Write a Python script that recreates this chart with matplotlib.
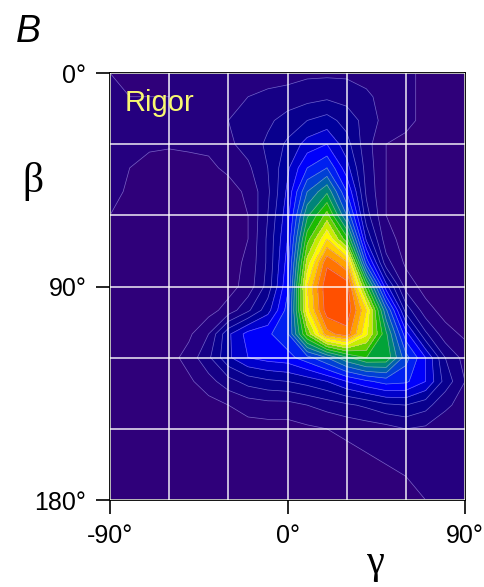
import matplotlib
matplotlib.use("Agg")
import matplotlib.pyplot as plt
from matplotlib.colors import LinearSegmentedColormap
import numpy as np

# orientation grid (degrees)
gamma = [-90, -80, -70, -60, -50, -40, -30, -20, -10, 0, 10, 20, 30, 40, 50, 60, 70, 80, 90]
beta = [0, 10, 20, 30, 40, 50, 60, 70, 80, 90, 100, 110, 120, 130, 140, 150, 160, 170, 180]

# relative density, one row per beta value
density = [
    [.05, .05, .05, .05, .06, .07, .07, .08, .08, .08, .09, .09, .09, .08, .07, .06, .04, .03, .03],
    [.06, .05, .05, .05, .06, .08, .09, .10, .11, .12, .13, .14, .13, .11, .08, .06, .04, .03, .03],
    [.07, .06, .06, .06, .07, .08, .10, .12, .14, .17, .20, .22, .18, .13, .08, .06, .04, .03, .03],
    [.09, .06, .055, .055, .06, .06, .09, .12, .16, .21, .27, .30, .22, .12, .05, .04, .03, .02, .02],
    [.09, .05, .04, .03, .03, .04, .06, .09, .15, .24, .35, .40, .27, .13, .05, .04, .02, .02, .02],
    [.07, .04, .03, .02, .02, .02, .03, .06, .14, .26, .45, .54, .35, .14, .05, .03, .02, .02, .02],
    [.05, .03, .02, .02, .02, .02, .02, .05, .15, .28, .54, .67, .45, .17, .05, .03, .02, .02, .02],
    [.03, .02, .02, .02, .02, .02, .02, .05, .16, .30, .63, .80, .62, .24, .07, .03, .02, .02, .02],
    [.02, .02, .02, .02, .02, .02, .03, .06, .16, .32, .72, .94, .86, .38, .12, .04, .02, .02, .02],
    [.02, .02, .02, .02, .02, .02, .03, .07, .17, .34, .80, .99, .98, .62, .27, .08, .03, .02, .02],
    [.02, .02, .02, .02, .02, .03, .07, .14, .23, .37, .78, .98, .99, .80, .46, .18, .07, .03, .02],
    [.02, .02, .02, .02, .04, .10, .24, .32, .34, .39, .66, .88, .93, .76, .56, .32, .16, .07, .04],
    [.02, .02, .02, .03, .07, .14, .24, .30, .32, .33, .38, .45, .54, .60, .59, .42, .30, .15, .08],
    [.02, .02, .02, .02, .04, .08, .13, .17, .19, .20, .22, .25, .30, .34, .37, .36, .30, .18, .10],
    [.02, .02, .02, .02, .02, .03, .05, .07, .08, .08, .10, .12, .14, .16, .19, .20, .17, .11, .08],
    [.02, .02, .02, .02, .02, .02, .03, .03, .03, .03, .04, .05, .06, .07, .08, .10, .09, .07, .06],
    [.02, .02, .02, .02, .02, .02, .02, .02, .02, .02, .03, .03, .04, .05, .06, .07, .07, .06, .06],
    [.02, .02, .02, .02, .02, .02, .02, .02, .02, .02, .02, .02, .03, .03, .04, .05, .06, .06, .06],
    [.02, .02, .02, .02, .02, .02, .02, .02, .02, .02, .02, .02, .02, .03, .03, .04, .05, .055, .055],
]

xticks = [-90, 0, 90]
xticklabels = ["-90°", "0°", "90°"]
yticks = [0, 90, 180]
yticklabels = ["0°", "90°", "180°"]
grid_step = 30

cmap = LinearSegmentedColormap.from_list("rigor", [
    (0.00, "#330077"), (0.08, "#240080"), (0.15, "#0e0088"), (0.22, "#000098"),
    (0.28, "#0000d0"), (0.33, "#0000ff"), (0.40, "#0030e8"), (0.46, "#0058b8"),
    (0.52, "#008080"), (0.57, "#00a040"), (0.62, "#10b800"), (0.68, "#70d400"),
    (0.73, "#d0f000"), (0.77, "#ffff00"), (0.83, "#ffd000"), (0.88, "#ffa000"),
    (0.93, "#ff7000"), (1.00, "#ff4000"),
])

levels = np.arange(0, 1.0001, 0.05)

fig = plt.figure(figsize=(4.85, 5.87), dpi=100)
ax = fig.add_axes([0.2268, 0.1482, 0.732, 0.7274])

ax.contourf(gamma, beta, density, levels=levels, cmap=cmap, vmin=0, vmax=1)
ax.contour(gamma, beta, density, levels=levels[1:], colors="#c8b8ff", linewidths=0.5, alpha=0.55)

ax.set_xlim(-90, 90)
ax.set_ylim(180, 0)

ax.set_xticks(xticks)
ax.set_xticklabels(xticklabels)
ax.set_yticks(yticks)
ax.set_yticklabels(yticklabels)
ax.set_xticks(np.arange(-90, 91, grid_step), minor=True)
ax.set_yticks(np.arange(0, 181, grid_step), minor=True)
ax.tick_params(which="major", direction="out", length=10, width=1.2, pad=7,
               labelsize=18, labelfontfamily="Liberation Sans")
ax.tick_params(which="minor", length=0)
ax.grid(which="both", color="white", linewidth=1.2, alpha=0.85)
ax.set_axisbelow(False)
for s in ax.spines.values():
    s.set_linewidth(1.3)

ax.text(0.04, 0.93, "Rigor", transform=ax.transAxes, color="#f8f870",
        fontsize=21, family="Liberation Sans", va="center", ha="left")

ax.text(0.749, -0.172, "γ", transform=ax.transAxes, fontsize=29,
        family="Liberation Serif", ha="center", va="baseline")
ax.text(-0.217, 0.745, "β", transform=ax.transAxes, fontsize=30,
        family="Liberation Serif", ha="center", va="center")
fig.text(0.033, 0.946, "B", fontsize=27, style="italic", family="Liberation Sans",
         ha="left", va="center")

fig.savefig("out.png", dpi=100)
